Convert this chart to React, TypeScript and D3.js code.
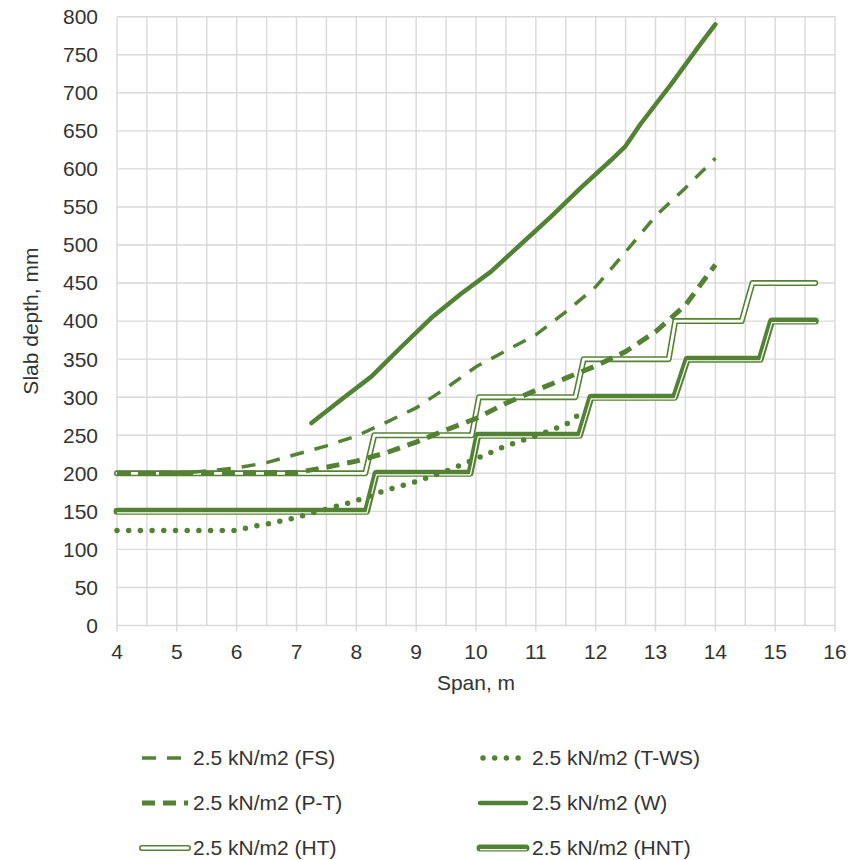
import React from "react";
import * as d3 from "d3";

const spanTicks = [4, 5, 6, 7, 8, 9, 10, 11, 12, 13, 14, 15, 16];
const depthTicks = [0, 50, 100, 150, 200, 250, 300, 350, 400, 450, 500, 550, 600, 650, 700, 750, 800];

const fsSpan = [4, 5, 5.5, 6, 6.5, 7, 7.5, 8, 8.5, 9, 9.5, 10, 10.5, 11, 11.5, 12, 12.5, 13, 13.5, 14];
const fsDepth = [200, 200, 203, 207, 214, 225, 236, 249, 267, 286, 312, 340, 361, 382, 412, 445, 491, 538, 575, 614];

const twsSpan = [4, 5, 6, 6.25, 6.5, 7, 7.5, 8, 8.5, 9, 9.5, 10, 10.5, 11, 11.5, 11.7];
const twsDepth = [125, 125, 125, 130, 133, 142, 153, 164, 178, 189, 203, 219, 236, 249, 264, 276];

const ptSpan = [4, 7, 7.5, 8, 8.5, 9, 9.5, 10, 10.5, 11, 11.5, 12, 12.5, 13, 13.5, 14];
const ptDepth = [200, 201, 208, 216, 227, 241, 257, 272, 292, 309, 325, 341, 360, 386, 421, 474];

const wSpan = [7.25, 7.75, 8.25, 8.75, 9.25, 9.75, 10.25, 10.75, 11.25, 11.75, 12.25, 12.5, 12.75, 13.25, 13.75, 14];
const wDepth = [266, 297, 327, 366, 404, 436, 465, 501, 537, 575, 611, 630, 659, 710, 764, 790];

const htSpan = [4, 8.15, 8.3, 9.93, 10.05, 11.66, 11.8, 13.22, 13.33, 14.44, 14.62, 15.67];
const htDepth = [200, 200, 250, 250, 300, 300, 350, 350, 400, 400, 450, 450];

const hntSpan = [4, 8.17, 8.33, 9.9, 10.03, 11.73, 11.92, 13.32, 13.53, 14.75, 14.94, 15.67];
const hntDepth = [150, 150, 200, 200, 250, 250, 300, 300, 350, 350, 400, 400];

const legendLabels = [
  "2.5 kN/m2 (FS)",
  "2.5 kN/m2 (T-WS)",
  "2.5 kN/m2 (P-T)",
  "2.5 kN/m2 (W)",
  "2.5 kN/m2 (HT)",
  "2.5 kN/m2 (HNT)",
];

const GREEN = "#548235";
const GRID = "#d9d9d9";
const TEXT = "#333333";
const FONT = "'Liberation Sans', Arial, sans-serif";
const FS_SIZE = 21;

export default function App() {
  const x = d3.scaleLinear().domain([4, 16]).range([117, 835]);
  const y = d3.scaleLinear().domain([0, 800]).range([625.5, 16.7]);
  const lineGen = d3.line<[number, number]>();
  const path = (xs: number[], ys: number[]) =>
    lineGen(xs.map((v, i) => [x(v), y(ys[i])] as [number, number])) || "";

  const minorX = d3.range(4, 16.001, 0.5);

  const styles: Record<string, any> = {
    fs: { stroke: GREEN, strokeWidth: 3.5, strokeDasharray: "14 11", fill: "none" },
    tws: { stroke: GREEN, strokeWidth: 5.5, strokeDasharray: "0 11.7", strokeLinecap: "round", fill: "none" },
    pt: { stroke: GREEN, strokeWidth: 5, strokeDasharray: "13 8", fill: "none" },
    w: { stroke: GREEN, strokeWidth: 4.5, strokeLinecap: "round", strokeLinejoin: "round", fill: "none" },
  };

  const DoubleThin = ({ d }: { d: string }) => (
    <g>
      <path d={d} fill="none" stroke={GREEN} strokeWidth={6} strokeLinecap="round" strokeLinejoin="round" />
      <path d={d} fill="none" stroke="#fff" strokeWidth={2.8} strokeLinecap="round" strokeLinejoin="round" />
    </g>
  );
  const ThickThin = ({ d }: { d: string }) => (
    <g>
      <path d={d} fill="none" stroke={GREEN} strokeWidth={7} strokeLinecap="round" strokeLinejoin="round" />
      <path d={d} fill="none" stroke="#fff" strokeWidth={1.2} strokeLinecap="round" strokeLinejoin="round" transform="translate(0.4,1.6)" />
    </g>
  );

  const rowsY = [758, 803, 848];
  const col1 = { s: 142, e: 188, t: 193 };
  const col2 = { s: 480, e: 526, t: 532 };
  const legendPos = [
    { c: col1, r: 0 },
    { c: col2, r: 0 },
    { c: col1, r: 1 },
    { c: col2, r: 1 },
    { c: col1, r: 2 },
    { c: col2, r: 2 },
  ];

  const sample = (i: number) => {
    const { c, r } = legendPos[i];
    const yy = rowsY[r];
    const d = `M${c.s},${yy}L${c.e},${yy}`;
    if (i === 0) return <path d={d} {...styles.fs} />;
    if (i === 1) return <path d={`M${c.s + 3},${yy}L${c.e},${yy}`} {...styles.tws} />;
    if (i === 2) return <path d={d} {...styles.pt} />;
    if (i === 3) return <path d={d} {...styles.w} />;
    if (i === 4) return <DoubleThin d={d} />;
    return <ThickThin d={d} />;
  };

  return (
    <div>
      <style>{`body{margin:0}`}</style>
      <svg width={866} height={860} style={{ display: "block", background: "#fff" }} fontFamily={FONT}>
        {/* grid */}
        {depthTicks.map((t) => (
          <line key={"h" + t} x1={x(4)} x2={x(16)} y1={y(t)} y2={y(t)} stroke={GRID} strokeWidth={1.4} />
        ))}
        {minorX.map((t) => (
          <line key={"v" + t} x1={x(t)} x2={x(t)} y1={y(0)} y2={y(800)} stroke={GRID} strokeWidth={1.4} />
        ))}
        {spanTicks.map((t) => (
          <line key={"tk" + t} x1={x(t)} x2={x(t)} y1={y(0)} y2={y(0) + 6} stroke={GRID} strokeWidth={1.4} />
        ))}

        {/* tick labels */}
        {depthTicks.map((t) => (
          <text key={"yl" + t} x={98} y={y(t)} dy="0.35em" textAnchor="end" fontSize={FS_SIZE} fill={TEXT}>
            {t}
          </text>
        ))}
        {spanTicks.map((t) => (
          <text key={"xl" + t} x={x(t)} y={652} dy="0.35em" textAnchor="middle" fontSize={FS_SIZE} fill={TEXT}>
            {t}
          </text>
        ))}
        <text x={(x(4) + x(16)) / 2} y={683} dy="0.35em" textAnchor="middle" fontSize={FS_SIZE} fill={TEXT}>
          Span, m
        </text>
        <text
          transform={`translate(31,${(y(0) + y(800)) / 2}) rotate(-90)`}
          dy="0.35em"
          textAnchor="middle"
          fontSize={FS_SIZE}
          fill={TEXT}
        >
          Slab depth, mm
        </text>

        {/* series */}
        <DoubleThin d={path(htSpan, htDepth)} />
        <ThickThin d={path(hntSpan, hntDepth)} />
        <path d={path(fsSpan, fsDepth)} {...styles.fs} />
        <path d={path(twsSpan, twsDepth)} {...styles.tws} />
        <path d={path(ptSpan, ptDepth)} {...styles.pt} />
        <path d={path(wSpan, wDepth)} {...styles.w} />

        {/* legend */}
        {legendLabels.map((lab, i) => {
          const { c, r } = legendPos[i];
          return (
            <g key={lab}>
              {sample(i)}
              <text x={c.t} y={rowsY[r]} dy="0.35em" fontSize={FS_SIZE} fill={TEXT}>
                {lab}
              </text>
            </g>
          );
        })}
      </svg>
    </div>
  );
}
